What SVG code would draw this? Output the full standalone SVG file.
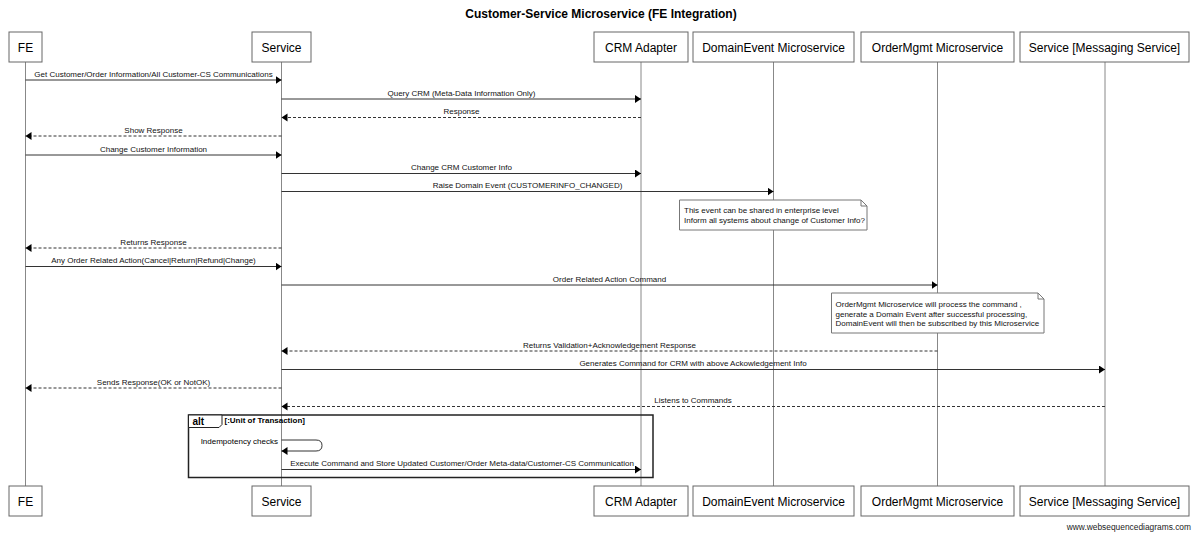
<svg xmlns="http://www.w3.org/2000/svg" width="1200" height="536" viewBox="0 0 1200 536">
<defs>
<style>
text{font-family:"Liberation Sans",Arial,Helvetica,sans-serif;fill:#000}
.title{font-size:12px;font-weight:bold;text-anchor:middle}
.pbox{fill:#fff;stroke:#666;stroke-width:1}
.pname{font-size:12px;text-anchor:middle}
.life{stroke:#888;stroke-width:1}
.msg{stroke:#333;stroke-width:1;fill:none;marker-end:url(#ah)}
.ret{stroke:#333;stroke-width:1;fill:none;stroke-dasharray:3,2;marker-end:url(#ah)}
.lbl{font-size:8px;text-anchor:middle;fill:#111}
.note{fill:#fff;stroke:#777;stroke-width:1}
.ntxt{font-size:8px;fill:#111}
.frame{fill:none;stroke:#222;stroke-width:1.5}
.foot{font-size:8.4px;text-anchor:end;fill:#222}
</style>
<marker id="ah" markerUnits="userSpaceOnUse" markerWidth="7" markerHeight="9" refX="6" refY="4" orient="auto">
<path d="M0,0 L6,4 L0,8 Z" fill="#000"/>
</marker>
</defs>
<rect width="1200" height="536" fill="#fff"/>
<text class="title" x="601" y="18">Customer-Service Microservice (FE Integration)</text>

<g id="lifelines">
<line class="life" x1="25.5" y1="62" x2="25.5" y2="486"/>
<line class="life" x1="281.5" y1="62" x2="281.5" y2="486"/>
<line class="life" x1="641" y1="62" x2="641" y2="486"/>
<line class="life" x1="773.5" y1="62" x2="773.5" y2="486"/>
<line class="life" x1="937.5" y1="62" x2="937.5" y2="486"/>
<line class="life" x1="1105" y1="62" x2="1105" y2="486"/>
</g>

<g id="p-fe">
<rect class="pbox" x="9" y="32" width="33" height="30"/>
<text class="pname" x="25.5" y="51.5">FE</text>
<rect class="pbox" x="9" y="486" width="33" height="30"/>
<text class="pname" x="25.5" y="505.5">FE</text>
</g>
<g id="p-service">
<rect class="pbox" x="252" y="32" width="59" height="30"/>
<text class="pname" x="281.5" y="51.5">Service</text>
<rect class="pbox" x="252" y="486" width="59" height="30"/>
<text class="pname" x="281.5" y="505.5">Service</text>
</g>
<g id="p-crm">
<rect class="pbox" x="594" y="32" width="94" height="30"/>
<text class="pname" x="641" y="51.5">CRM Adapter</text>
<rect class="pbox" x="594" y="486" width="94" height="30"/>
<text class="pname" x="641" y="505.5">CRM Adapter</text>
</g>
<g id="p-domainevent">
<rect class="pbox" x="693" y="32" width="161" height="30"/>
<text class="pname" x="773.5" y="51.5">DomainEvent Microservice</text>
<rect class="pbox" x="693" y="486" width="161" height="30"/>
<text class="pname" x="773.5" y="505.5">DomainEvent Microservice</text>
</g>
<g id="p-ordermgmt">
<rect class="pbox" x="861" y="32" width="153" height="30"/>
<text class="pname" x="937.5" y="51.5">OrderMgmt Microservice</text>
<rect class="pbox" x="861" y="486" width="153" height="30"/>
<text class="pname" x="937.5" y="505.5">OrderMgmt Microservice</text>
</g>
<g id="p-messaging">
<rect class="pbox" x="1020" y="32" width="169" height="30"/>
<text class="pname" x="1104.5" y="51.5">Service [Messaging Service]</text>
<rect class="pbox" x="1020" y="486" width="169" height="30"/>
<text class="pname" x="1104.5" y="505.5">Service [Messaging Service]</text>
</g>

<g id="alt">
<rect class="frame" x="188.5" y="415" width="464.5" height="62.5"/>
<path d="M188.5,415 H222 V424.5 L219,427.5 H188.5 Z" fill="#fff" stroke="#222" stroke-width="1"/>
<text x="192.5" y="425" font-size="10px" font-weight="bold">alt</text>
<text x="224.5" y="422.5" font-size="8px" font-weight="bold">[:Unit of Transaction]</text>
</g>

<g id="connectors">
<line class="msg" x1="25.5" y1="80" x2="281.5" y2="80"/>
<text class="lbl" x="153.5" y="76.5">Get Customer/Order Information/All Customer-CS Communications</text>
<line class="msg" x1="281.5" y1="99" x2="641" y2="99"/>
<text class="lbl" x="461.5" y="95.5">Query CRM (Meta-Data Information Only)</text>
<line class="ret" x1="641" y1="117.5" x2="281.5" y2="117.5"/>
<text class="lbl" x="461.5" y="114">Response</text>
<line class="ret" x1="281.5" y1="136" x2="25.5" y2="136"/>
<text class="lbl" x="153.5" y="132.5">Show Response</text>
<line class="msg" x1="25.5" y1="155" x2="281.5" y2="155"/>
<text class="lbl" x="153.5" y="151.5">Change Customer Information</text>
<line class="msg" x1="281.5" y1="173.5" x2="641" y2="173.5"/>
<text class="lbl" x="461.5" y="170">Change CRM Customer Info</text>
<line class="msg" x1="281.5" y1="191.5" x2="773.5" y2="191.5"/>
<text class="lbl" x="527.5" y="188">Raise Domain Event (CUSTOMERINFO_CHANGED)</text>
<line class="ret" x1="281.5" y1="248" x2="25.5" y2="248"/>
<text class="lbl" x="153.5" y="244.5">Returns Response</text>
<line class="msg" x1="25.5" y1="266.5" x2="281.5" y2="266.5"/>
<text class="lbl" x="153.5" y="263">Any Order Related Action(Cancel|Return|Refund|Change)</text>
<line class="msg" x1="281.5" y1="285" x2="937.5" y2="285"/>
<text class="lbl" x="609.5" y="281.5">Order Related Action Command</text>
<line class="ret" x1="937.5" y1="351" x2="281.5" y2="351"/>
<text class="lbl" x="609.5" y="347.5">Returns Validation+Acknowledgement Response</text>
<line class="msg" x1="281.5" y1="369.5" x2="1105" y2="369.5"/>
<text class="lbl" x="693" y="366">Generates Command for CRM with above Ackowledgement Info</text>
<line class="ret" x1="281.5" y1="388" x2="25.5" y2="388"/>
<text class="lbl" x="153.5" y="384.5">Sends Response(OK or NotOK)</text>
<line class="ret" x1="1105" y1="406.5" x2="281.5" y2="406.5"/>
<text class="lbl" x="693" y="403">Listens to Commands</text>
<path class="msg" d="M281.5,440 H316 Q322,440 322,445.5 Q322,451 316,451 H281.5"/>
<text x="278" y="444" font-size="8px" text-anchor="end" fill="#111">Indempotency checks</text>
<line class="msg" x1="281.5" y1="469.5" x2="641" y2="469.5"/>
<text class="lbl" x="462" y="466">Execute Command and Store Updated Customer/Order Meta-data/Customer-CS Communication</text>
</g>

<g id="note-domainevent">
<path class="note" d="M679.5,200 H861 L867,206 V230 H679.5 Z"/>
<path d="M861,200 V206 H867" fill="none" stroke="#777" stroke-width="1"/>
<text class="ntxt" x="684" y="213">This event can be shared in enterprise level</text>
<text class="ntxt" x="684" y="222.5">Inform all systems about change of Customer Info?</text>
</g>
<g id="note-ordermgmt">
<path class="note" d="M831.5,293 H1038 L1044,299 V333 H831.5 Z"/>
<path d="M1038,293 V299 H1044" fill="none" stroke="#777" stroke-width="1"/>
<text class="ntxt" x="835.5" y="307">OrderMgmt Microservice will process the command ,</text>
<text class="ntxt" x="835.5" y="316.5">generate a Domain Event after successful processing,</text>
<text class="ntxt" x="835.5" y="326">DomainEvent will then be subscribed by this Microservice</text>
</g>

<text class="foot" x="1191" y="530">www.websequencediagrams.com</text>
</svg>
